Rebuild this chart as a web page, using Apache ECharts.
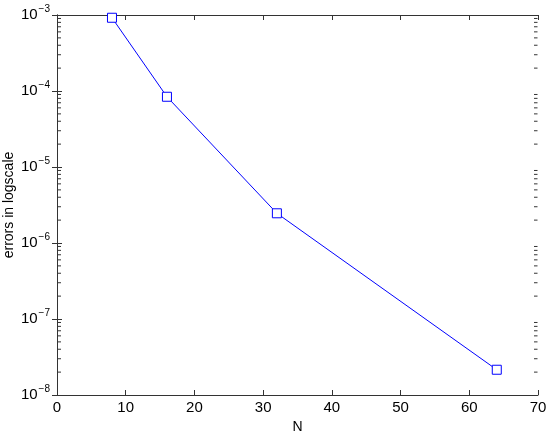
<!DOCTYPE html>
<html lang="en">
<head>
    <meta charset="UTF-8">
    <title>errors</title>
    <script src="https://cdn.jsdelivr.net/npm/echarts@6/dist/echarts.min.js"></script>
    <style>
        html, body { margin: 0; padding: 0; background: #fff; }
    </style>
</head>
<body>
<div id="main" style="width: 550px;height:436px;"></div>
<script type="text/javascript">
// data
var nValues = [8, 16, 32, 64];
var errValues = [9.2e-4, 8.4e-5, 2.46e-6, 2.15e-8];
var xTicks = [0, 10, 20, 30, 40, 50, 60, 70];
var yExponents = [-8, -7, -6, -5, -4, -3];
var minorMantissas = [2, 3, 4, 5, 6, 7, 8, 9];

var axisColor = '#333';
var fontFam = '"Liberation Sans", Arial, sans-serif';
var xMin = xTicks[0], xMax = xTicks[xTicks.length - 1];

function powLabel(v) {
    var e = Math.round(Math.log(v) / Math.LN10);
    return '{b|10}{e|' + (e < 0 ? '\u2212' + (-e) : e) + '}';
}

var rich = {
    b: { fontSize: 15, fontFamily: fontFam, color: '#000' },
    e: { fontSize: 10, fontFamily: fontFam, color: '#000', padding: [0, 0, 11, 1] }
};

var points = [];
for (var i = 0; i < nValues.length; i++) {
    points.push([nValues[i], errValues[i]]);
}

// log minor tick values (2..9 x 10^e)
var minorVals = [];
for (var j = 0; j < yExponents.length - 1; j++) {
    for (var k = 0; k < minorMantissas.length; k++) {
        minorVals.push([xMin, minorMantissas[k] * Math.pow(10, yExponents[j])]);
    }
}

// minor ticks drawn inside on both left and right frame
function minorTicks(params, api) {
    var v = api.value(1);
    var pl = api.coord([xMin, v]);
    var pr = api.coord([xMax, v]);
    return {
        type: 'group',
        children: [
            { type: 'line', shape: { x1: pl[0] + 0.5, y1: pl[1], x2: pl[0] + 4, y2: pl[1] }, style: { stroke: axisColor, lineWidth: 1 } },
            { type: 'line', shape: { x1: pr[0] - 0.5, y1: pr[1], x2: pr[0] - 4, y2: pr[1] }, style: { stroke: axisColor, lineWidth: 1 } }
        ]
    };
}

var myChart = echarts.init(document.getElementById('main'));
myChart.setOption({
    animation: false,
    grid: { left: 57, right: 12, top: 15, bottom: 41, outerBoundsMode: 'none', containLabel: false },
    xAxis: [{
        type: 'value',
        min: xMin,
        max: xMax,
        interval: 10,
        name: 'N',
        nameLocation: 'middle',
        nameGap: 23,
        nameTextStyle: { fontSize: 14, fontFamily: fontFam, color: '#000' },
        axisLine: { lineStyle: { color: axisColor, width: 1 } },
        axisTick: { inside: true, length: 5, lineStyle: { color: axisColor } },
        axisLabel: { fontSize: 15, fontFamily: fontFam, color: '#000', margin: 5 },
        splitLine: { show: false }
    }, {
        type: 'value',
        position: 'top',
        min: xMin,
        max: xMax,
        interval: 10,
        axisLine: { lineStyle: { color: axisColor, width: 1 } },
        axisTick: { inside: true, length: 5, lineStyle: { color: axisColor } },
        axisLabel: { show: false },
        splitLine: { show: false }
    }],
    yAxis: [{
        type: 'log',
        logBase: 10,
        min: Math.pow(10, yExponents[0]),
        max: Math.pow(10, yExponents[yExponents.length - 1]),
        name: 'errors in logscale',
        nameLocation: 'middle',
        nameGap: 41,
        nameMoveOverlap: false,
        nameTextStyle: { fontSize: 14, fontFamily: fontFam, color: '#000' },
        axisLine: { show: true, lineStyle: { color: axisColor, width: 1 } },
        axisTick: { inside: true, length: 5, lineStyle: { color: axisColor } },
        axisLabel: { formatter: powLabel, rich: rich, margin: 7 },
        splitLine: { show: false }
    }, {
        type: 'log',
        logBase: 10,
        position: 'right',
        min: Math.pow(10, yExponents[0]),
        max: Math.pow(10, yExponents[yExponents.length - 1]),
        axisLine: { show: true, lineStyle: { color: axisColor, width: 1 } },
        axisTick: { inside: true, length: 5, lineStyle: { color: axisColor } },
        axisLabel: { show: false },
        splitLine: { show: false }
    }],
    series: [{
        name: 'minor',
        type: 'custom',
        silent: true,
        clip: false,
        renderItem: minorTicks,
        data: minorVals,
        z: 10
    }, {
        name: 'errors',
        type: 'line',
        data: points,
        symbol: 'rect',
        symbolSize: 9,
        itemStyle: { color: '#fff', borderColor: '#0000ff', borderWidth: 1 },
        lineStyle: { color: '#0000ff', width: 1 },
        z: 3
    }]
});
</script>
</body>
</html>
